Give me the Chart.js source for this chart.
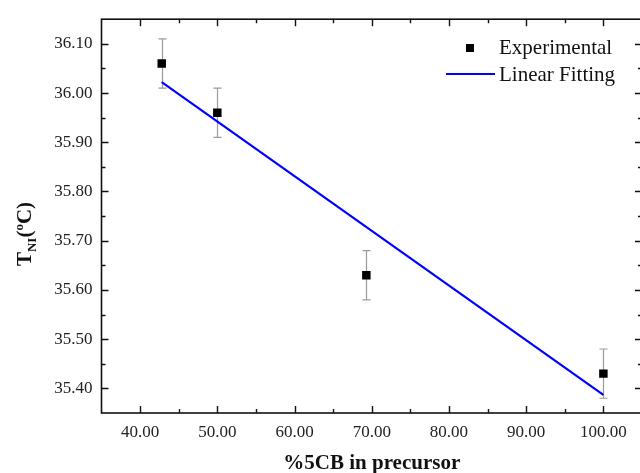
<!DOCTYPE html>
<html>
<head>
<meta charset="utf-8">
<script src="https://cdn.jsdelivr.net/npm/chart.js@4/dist/chart.umd.min.js"></script>
<style>
  html, body { margin: 0; padding: 0; background: #fff; overflow: hidden; }
  #wrap { position: relative; width: 650px; height: 473px; }
</style>
</head>
<body>
<div id="wrap"><canvas id="c" width="650" height="473"></canvas></div>
<script>
// Measured clearing temperature vs. 5CB fraction
const percent5CB   = [42.8, 50.0, 69.3, 100.0];
const tempNI       = [36.06, 35.96, 35.63, 35.43];
const tempErr      = [0.05, 0.05, 0.05, 0.05];

// Linear fit endpoints
const fitX = [42.8, 100.0];
const fitY = [36.022, 35.387];

// Axis ticks
const xTicks = [40, 50, 60, 70, 80, 90, 100];
const xMinor = [45, 55, 65, 75, 85, 95];
const yTicks = [35.4, 35.5, 35.6, 35.7, 35.8, 35.9, 36.0, 36.1];
const yMinor = [35.45, 35.55, 35.65, 35.75, 35.85, 35.95, 36.05];

const SERIF = '"Liberation Serif", "Times New Roman", serif';

const framePlugin = {
  id: 'frame',
  beforeDatasetsDraw(chart) {
    const { ctx, scales: { x, y } } = chart;
    ctx.save();
    // error bars, drawn beneath the markers
    ctx.strokeStyle = '#9a9a9a';
    ctx.lineWidth = 1.2;
    percent5CB.forEach((v, i) => {
      const px = Math.round(x.getPixelForValue(v)) + 0.5;
      const t = y.getPixelForValue(tempNI[i] + tempErr[i]);
      const b = y.getPixelForValue(tempNI[i] - tempErr[i]);
      ctx.beginPath();
      ctx.moveTo(px, t); ctx.lineTo(px, b);
      ctx.moveTo(px - 4, t); ctx.lineTo(px + 4, t);
      ctx.moveTo(px - 4, b); ctx.lineTo(px + 4, b);
      ctx.stroke();
    });
    ctx.restore();
  },
  afterDraw(chart) {
    const { ctx, chartArea: a, scales: { x, y } } = chart;
    ctx.save();
    ctx.strokeStyle = '#111';
    ctx.lineWidth = 1.6;
    ctx.strokeRect(a.left, a.top, a.right - a.left, a.bottom - a.top);

    // inward ticks on all four sides
    ctx.lineWidth = 1.4;
    const tick = (vals, len, horiz) => {
      vals.forEach(v => {
        ctx.beginPath();
        if (horiz) {
          const px = Math.round(x.getPixelForValue(v)) + 0.5;
          ctx.moveTo(px, a.bottom); ctx.lineTo(px, a.bottom - len);
          ctx.moveTo(px, a.top); ctx.lineTo(px, a.top + len);
        } else {
          const py = Math.round(y.getPixelForValue(v)) + 0.5;
          ctx.moveTo(a.left, py); ctx.lineTo(a.left + len, py);
          ctx.moveTo(a.right, py); ctx.lineTo(a.right - len, py);
        }
        ctx.stroke();
      });
    };
    tick(xTicks, 7, true);
    tick(xMinor, 4, true);
    tick(yTicks, 7, false);
    tick(yMinor, 4, false);

    // legend
    ctx.fillStyle = '#000';
    ctx.fillRect(466, 44, 8, 8);
    ctx.strokeStyle = '#0000ff';
    ctx.lineWidth = 2;
    ctx.beginPath();
    ctx.moveTo(446, 74); ctx.lineTo(495, 74);
    ctx.stroke();
    ctx.fillStyle = '#111';
    ctx.font = '21px ' + SERIF;
    ctx.textBaseline = 'middle';
    ctx.textAlign = 'left';
    ctx.fillText('Experimental', 499, 48);
    ctx.fillText('Linear Fitting', 499, 75);

    // y-axis title T_NI(°C) with subscript/superscript
    ctx.translate(31, 234);
    ctx.rotate(-Math.PI / 2);
    const big = 'bold 21px ' + SERIF;
    const small = 'bold 13px ' + SERIF;
    const parts = [
      { t: 'T', f: big, dy: 0 },
      { t: 'NI', f: small, dy: 5 },
      { t: '(', f: big, dy: 0 },
      { t: 'o', f: small, dy: -8 },
      { t: 'C)', f: big, dy: 0 }
    ];
    let total = 0;
    parts.forEach(p => { ctx.font = p.f; total += ctx.measureText(p.t).width; });
    let cx = -total / 2;
    ctx.textBaseline = 'alphabetic';
    parts.forEach(p => {
      ctx.font = p.f;
      ctx.fillText(p.t, cx, p.dy);
      cx += ctx.measureText(p.t).width;
    });
    ctx.restore();
  }
};

new Chart(document.getElementById('c'), {
  type: 'scatter',
  data: {
    datasets: [
      {
        label: 'Experimental',
        data: percent5CB.map((v, i) => ({ x: v, y: tempNI[i] })),
        pointStyle: 'rect',
        pointRadius: 6,
        pointBorderWidth: 0,
        backgroundColor: '#000',
        borderColor: '#000',
        order: 0
      },
      {
        label: 'Linear Fitting',
        type: 'line',
        data: fitX.map((v, i) => ({ x: v, y: fitY[i] })),
        borderColor: '#0000ff',
        borderWidth: 2.2,
        pointRadius: 0,
        fill: false,
        order: 1
      }
    ]
  },
  options: {
    responsive: false,
    animation: false,
    devicePixelRatio: 1,
    layout: { padding: { left: 0, top: 15, right: 8, bottom: 0 } },
    plugins: { legend: { display: false }, tooltip: { enabled: false } },
    scales: {
      x: {
        type: 'linear',
        min: 35, max: 105,
        grid: { display: false, drawTicks: false },
        border: { display: false },
        afterBuildTicks: s => { s.ticks = xTicks.map(v => ({ value: v })); },
        afterFit: s => { s.height = 60; },
        ticks: {
          padding: 9,
          color: '#222',
          font: { family: SERIF, size: 17 },
          callback: v => Number(v).toFixed(2)
        },
        title: {
          display: true,
          text: '%5CB in precursor',
          color: '#111',
          font: { family: SERIF, size: 21, weight: 'bold' },
          padding: { top: 0, bottom: -3 }
        }
      },
      y: {
        type: 'linear',
        min: 35.35, max: 36.15,
        grid: { display: false, drawTicks: false },
        border: { display: false },
        afterBuildTicks: s => { s.ticks = yTicks.map(v => ({ value: v })); },
        afterFit: s => { s.width = 101.5; },
        ticks: {
          padding: 9,
          color: '#222',
          font: { family: SERIF, size: 17 },
          callback: v => Number(v).toFixed(2)
        }
      }
    }
  },
  plugins: [framePlugin]
});
</script>
</body>
</html>
